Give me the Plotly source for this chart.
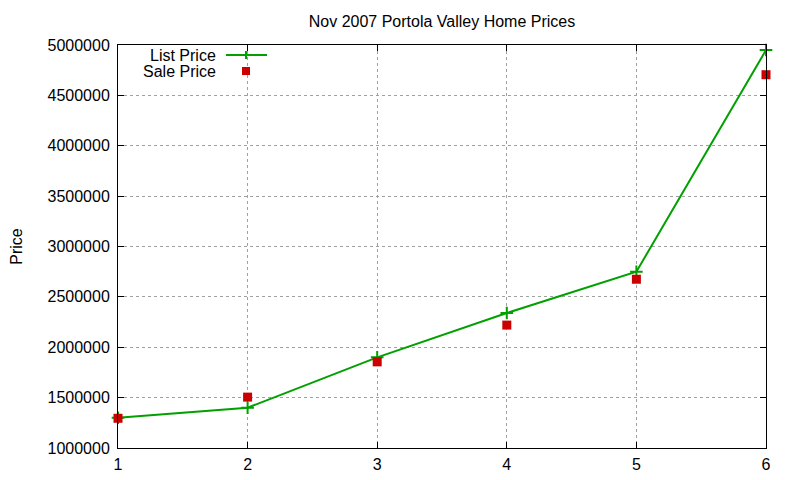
import plotly.graph_objects as go

x_vals = [1, 2, 3, 4, 5, 6]
list_price = [1300000, 1400000, 1900000, 2340000, 2750000, 4950000]
sale_price = [1295000, 1505000, 1855000, 2220000, 2675000, 4705000]
y_ticks = [1000000, 1500000, 2000000, 2500000, 3000000, 3500000, 4000000, 4500000, 5000000]

GREEN = "#00a000"
RED = "#cc0000"
FONT = "Liberation Sans, Arial, sans-serif"
FS = 16

# page has an 8px body margin; plot area target (window px): x 118..766, y 45..448
L, T, R, B = 110, 37, 42, 40
PW, PH = 648, 403

fig = go.Figure()
fig.add_trace(go.Scatter(x=x_vals, y=list_price, mode="lines+markers", name="List Price",
                         line=dict(color=GREEN, width=2),
                         marker=dict(symbol="cross-thin", size=9, line=dict(color=GREEN, width=2)),
                         showlegend=False, cliponaxis=False))
fig.add_trace(go.Scatter(x=x_vals, y=sale_price, mode="markers", name="Sale Price",
                         marker=dict(symbol="square", size=9, color=RED),
                         showlegend=False, cliponaxis=False))

axis_common = dict(showline=True, linecolor="black", linewidth=1, mirror="ticks",
                   ticks="inside", ticklen=6, tickcolor="black",
                   showgrid=True, gridcolor="#a0a0a0", griddash="dot", gridwidth=1,
                   zeroline=False, automargin=False,
                   tickfont=dict(size=FS, color="black", family=FONT))

fig.update_xaxes(range=[1, 6], tickvals=x_vals, ticktext=[str(v) for v in x_vals],
                 ticklabelstandoff=2, **axis_common)
fig.update_yaxes(range=[1000000, 5000000], tickvals=y_ticks, ticktext=[str(v) for v in y_ticks],
                 ticklabelstandoff=4,
                 title=dict(text="Price", font=dict(size=FS, color="black", family=FONT), standoff=24),
                 **axis_common)

def px(xw):
    return (xw - 8 - L) / PW

def py(yw):
    return (T + PH - (yw - 8)) / PH

# Legend (gnuplot style: text to the left of sample)
fig.add_annotation(xref="paper", yref="paper", x=px(218), y=py(55),
                   text="List Price", showarrow=False, xanchor="right", yanchor="middle",
                   font=dict(size=FS, color="black", family=FONT))
fig.add_annotation(xref="paper", yref="paper", x=px(218), y=py(71),
                   text="Sale Price", showarrow=False, xanchor="right", yanchor="middle",
                   font=dict(size=FS, color="black", family=FONT))
fig.add_shape(type="line", xref="paper", yref="paper",
              x0=px(226), x1=px(267), y0=py(55), y1=py(55),
              line=dict(color=GREEN, width=2))
fig.add_shape(type="line", xref="paper", yref="paper",
              x0=px(246), x1=px(246), y0=py(51), y1=py(59),
              line=dict(color=GREEN, width=2))
fig.add_shape(type="rect", xref="paper", yref="paper",
              x0=px(242), x1=px(250), y0=py(67), y1=py(75),
              line=dict(width=0), fillcolor=RED)

fig.update_layout(
    width=800, height=480,
    margin=dict(l=L, r=R, t=T, b=B),
    paper_bgcolor="white", plot_bgcolor="white",
    title=dict(text="Nov 2007 Portola Valley Home Prices", xref="paper", x=0.5, xanchor="center",
               y=1 - 13 / 480, yanchor="middle",
               font=dict(size=FS, color="black", family=FONT)),
    font=dict(family=FONT, color="black"),
)

fig.write_html("out.html")
